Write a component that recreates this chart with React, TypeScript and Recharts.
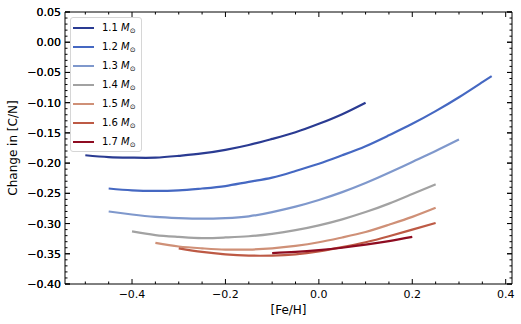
import React from 'react';
import { LineChart, Line, XAxis, YAxis, Legend, ReferenceLine } from 'recharts';

// stellar masses and line colours
const masses = ['1.1', '1.2', '1.3', '1.4', '1.5', '1.6', '1.7'];
const colors = ['#2a3b92', '#4568c2', '#7f98cc', '#a2a2a2', '#cf9077', '#bd5a45', '#8e0c21'];

// [Fe/H] and change in [C/N]
const feh11 = [-0.5, -0.45, -0.4, -0.35, -0.3, -0.25, -0.2, -0.15, -0.1, -0.05, 0, 0.05, 0.1];
const dcn11 = [-0.187, -0.19, -0.191, -0.191, -0.188, -0.184, -0.178, -0.17, -0.16, -0.149, -0.135, -0.119, -0.1];

const feh12 = [-0.45, -0.4, -0.35, -0.3, -0.25, -0.2, -0.15, -0.1, -0.05, 0, 0.05, 0.1, 0.15, 0.2, 0.25, 0.3, 0.35, 0.37];
const dcn12 = [-0.242, -0.245, -0.246, -0.245, -0.242, -0.238, -0.231, -0.224, -0.213, -0.201, -0.187, -0.172, -0.154, -0.135, -0.114, -0.091, -0.066, -0.056];

const feh13 = [-0.45, -0.4, -0.35, -0.3, -0.25, -0.2, -0.15, -0.1, -0.05, 0, 0.05, 0.1, 0.15, 0.2, 0.25, 0.3];
const dcn13 = [-0.28, -0.285, -0.289, -0.291, -0.292, -0.291, -0.288, -0.281, -0.272, -0.261, -0.248, -0.233, -0.216, -0.198, -0.18, -0.161];

const feh14 = [-0.4, -0.35, -0.3, -0.25, -0.2, -0.15, -0.1, -0.05, 0, 0.05, 0.1, 0.15, 0.2, 0.25];
const dcn14 = [-0.313, -0.319, -0.322, -0.324, -0.323, -0.321, -0.317, -0.311, -0.303, -0.293, -0.281, -0.267, -0.251, -0.235];

const feh15 = [-0.35, -0.3, -0.25, -0.2, -0.15, -0.1, -0.05, 0, 0.05, 0.1, 0.15, 0.2, 0.25];
const dcn15 = [-0.332, -0.338, -0.341, -0.343, -0.343, -0.341, -0.337, -0.331, -0.323, -0.314, -0.302, -0.289, -0.274];

const feh16 = [-0.3, -0.25, -0.2, -0.15, -0.1, -0.05, 0, 0.05, 0.1, 0.15, 0.2, 0.25];
const dcn16 = [-0.341, -0.347, -0.351, -0.353, -0.353, -0.351, -0.346, -0.339, -0.331, -0.321, -0.31, -0.299];

const feh17 = [-0.1, -0.05, 0, 0.05, 0.1, 0.15, 0.2];
const dcn17 = [-0.349, -0.347, -0.344, -0.34, -0.335, -0.329, -0.322];

// ticks
const xMajor = [-0.4, -0.2, 0, 0.2, 0.4];
const xMinor = [-0.5, -0.45, -0.35, -0.3, -0.25, -0.15, -0.1, -0.05, 0.05, 0.1, 0.15, 0.25, 0.3, 0.35];
const yMajor = [0.05, 0, -0.05, -0.1, -0.15, -0.2, -0.25, -0.3, -0.35, -0.4];
const yMinor = Array.from({ length: 46 }, (_, i) => Number((-0.4 + i * 0.01).toFixed(2)));

const xDomain = [-0.5435, 0.4135];
const yDomain = [-0.4, 0.05];

const zip = (xs: number[], ys: number[]) => xs.map((x, i) => ({ x, y: ys[i] }));
const series = [
  zip(feh11, dcn11), zip(feh12, dcn12), zip(feh13, dcn13), zip(feh14, dcn14),
  zip(feh15, dcn15), zip(feh16, dcn16), zip(feh17, dcn17),
];

// layout
const W = 521, H = 324;
const margin = { top: 12, right: 9, bottom: 10, left: 5 };
const yAxisW = 60, xAxisH = 30;
const plotW = W - margin.left - margin.right - yAxisW;
const plotH = H - margin.top - margin.bottom - xAxisH;

const font = 'DejaVu Sans, sans-serif';
const minus = (v: number, d: number) => (v < 0 ? '\u2212' : '') + Math.abs(v).toFixed(d);
const isIn = (list: number[], v: number) => list.some((m) => Math.abs(m - v) < 1e-9);

// matplotlib-style inward ticks on both sides of the frame
const XTick = (props: any) => {
  const { x, y, payload } = props;
  const major = isIn(xMajor, payload.value);
  const len = major ? 5 : 2.5;
  const top = y - plotH;
  return (
    <g>
      <line x1={x} y1={y} x2={x} y2={y - len} stroke="#000" strokeWidth={1} />
      <line x1={x} y1={top} x2={x} y2={top + len} stroke="#000" strokeWidth={1} />
      {major && (
        <text x={x} y={y + 14} textAnchor="middle" fontSize={11} fontFamily={font} fill="#000">
          {minus(payload.value, 1)}
        </text>
      )}
    </g>
  );
};

const YTick = (props: any) => {
  const { x, y, payload } = props;
  const major = isIn(yMajor, payload.value);
  const len = major ? 5 : 2.5;
  const right = x + plotW;
  return (
    <g>
      <line x1={x} y1={y} x2={x + len} y2={y} stroke="#000" strokeWidth={1} />
      <line x1={right} y1={y} x2={right - len} y2={y} stroke="#000" strokeWidth={1} />
      {major && (
        <text x={x - 4} y={y + 4} textAnchor="end" fontSize={11} fontFamily={font} fill="#000">
          {minus(payload.value, 2)}
        </text>
      )}
    </g>
  );
};

const renderLegend = (props: any) => (
  <div
    style={{
      width: 72, boxSizing: 'border-box', border: '1px solid #d6d6d6', borderRadius: 3,
      background: 'rgba(255,255,255,0.8)', padding: '0 0 0 2px', fontFamily: font, fontSize: 10, color: '#000',
    }}
  >
    {(props.payload || []).map((p: any) => (
      <div key={p.value} style={{ display: 'flex', alignItems: 'center', height: 19 }}>
        <span style={{ display: 'inline-block', width: 21, height: 2, background: p.color, marginRight: 8 }} />
        <span style={{ whiteSpace: 'nowrap' }}>
          {p.value} <i>M</i>
          <span style={{ fontSize: 7, position: 'relative', top: 2 }}>⊙</span>
        </span>
      </div>
    ))}
  </div>
);

export default function App() {
  return (
    <div style={{ position: 'absolute', left: 0, top: 0, background: '#fff' }}>
      <LineChart width={W} height={H} margin={margin}>
        <XAxis dataKey="x" type="number" domain={xDomain} ticks={[...xMinor, ...xMajor]} interval={0}
          allowDataOverflow tickSize={0} tickMargin={0} tickLine={false} height={xAxisH}
          axisLine={{ stroke: '#000' }} tick={XTick}
          label={{ value: '[Fe/H]', position: 'insideBottom', offset: 0, fontSize: 12, fill: '#000', fontFamily: font }} />
        <YAxis type="number" domain={yDomain} ticks={[...yMinor, ...yMajor]} interval={0}
          allowDataOverflow tickSize={0} tickMargin={0} tickLine={false} width={yAxisW}
          axisLine={{ stroke: '#000' }} tick={YTick}
          label={{ value: 'Change in [C/N]', angle: -90, position: 'insideLeft', offset: 7.5,
            style: { textAnchor: 'middle' }, fontSize: 12, fill: '#000', fontFamily: font }} />

        {/* top and right spines */}
        <ReferenceLine x={xDomain[1]} stroke="#000" strokeWidth={1} />
        <ReferenceLine y={yDomain[1]} stroke="#000" strokeWidth={1} />

        {series.map((d, i) => (
          <Line key={masses[i]} data={d} dataKey="y" name={masses[i]}
            type="natural" stroke={colors[i]} strokeWidth={2.2} dot={false} isAnimationActive={false} />
        ))}

        <Legend layout="vertical" align="center" verticalAlign="middle" content={renderLegend}
          wrapperStyle={{ left: 70, top: 17, width: 72 }} />
      </LineChart>
    </div>
  );
}
